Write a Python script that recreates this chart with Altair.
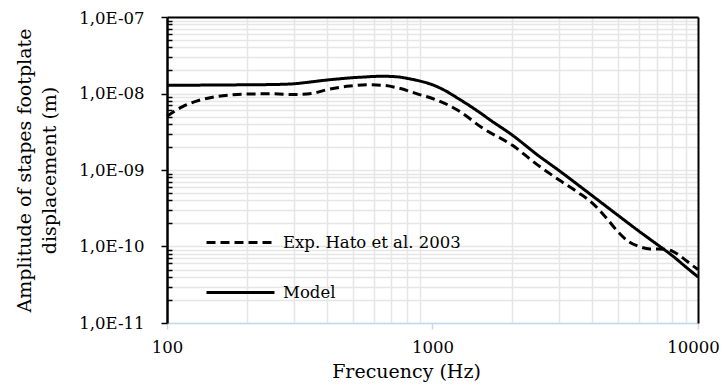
import altair as alt
import pandas as pd

# ---- data ----
series_names = ["Exp. Hato et al. 2003", "Model"]

freq_exp = [100, 115, 130, 150, 175, 200, 250, 300, 350, 400, 475, 570, 650, 750,
            900, 1000, 1250, 1550, 2000, 2500, 3000, 3500, 4000, 4500, 5000, 5500,
            6000, 6600, 7600, 8000, 8760, 9500, 10000]
amp_exp = [5.05e-9, 6.8e-9, 8.0e-9, 9.0e-9, 9.6e-9, 9.85e-9, 9.9e-9, 9.7e-9, 1.0e-8,
           1.12e-8, 1.24e-8, 1.30e-8, 1.28e-8, 1.17e-8, 9.6e-9, 8.6e-9, 6.0e-9, 3.5e-9,
           2.1e-9, 1.15e-9, 7.4e-10, 5.2e-10, 3.7e-10, 2.4e-10, 1.55e-10, 1.15e-10,
           1.0e-10, 9.3e-11, 9.2e-11, 8.7e-11, 7.1e-11, 5.7e-11, 5.0e-11]

freq_model = [100, 150, 200, 250, 300, 350, 400, 450, 500, 550, 600, 650, 700, 750,
              800, 900, 1000, 1100, 1250, 1500, 1650, 2000, 2500, 3000, 4000, 5000,
              6000, 7000, 8000, 9000, 10000]
amp_model = [1.28e-8, 1.29e-8, 1.30e-8, 1.31e-8, 1.34e-8, 1.42e-8, 1.50e-8, 1.56e-8,
             1.61e-8, 1.64e-8, 1.67e-8, 1.68e-8, 1.67e-8, 1.64e-8, 1.58e-8, 1.45e-8,
             1.30e-8, 1.12e-8, 8.6e-9, 5.7e-9, 4.5e-9, 2.85e-9, 1.55e-9, 9.8e-10,
             4.6e-10, 2.55e-10, 1.58e-10, 1.07e-10, 7.6e-11, 5.4e-11, 4.0e-11]

x_ticks = [100, 1000, 10000]
y_ticks = [1e-11, 1e-10, 1e-9, 1e-8, 1e-7]

rows = [{"f": f, "a": a, "s": series_names[0]} for f, a in zip(freq_exp, amp_exp)]
rows += [{"f": f, "a": a, "s": series_names[1]} for f, a in zip(freq_model, amp_model)]
df = pd.DataFrame(rows)

# ---- layout ----
W, H = 531, 306
FONT = "DejaVu Serif"
GRID = "#e6e6e6"
minor_y = [m * 10.0 ** e for e in range(-11, -7) for m in range(2, 10)]
all_y = sorted(minor_y + y_ticks)
minor_x = [m * 10 ** e for e in (2, 3) for m in range(2, 10)]

xs = alt.Scale(type="log", domain=[100, 10000], nice=False)
ys = alt.Scale(type="log", domain=[1e-11, 1e-7], nice=False)

base = alt.Chart(df)

grid = base.mark_line(opacity=0).encode(
    x=alt.X("f:Q", scale=xs, axis=alt.Axis(orient="bottom", values=minor_x, grid=True,
                                           gridColor=GRID, gridWidth=1.5, domain=False,
                                           ticks=False, labels=False, title=None)),
    y=alt.Y("a:Q", scale=ys, axis=alt.Axis(orient="left", values=all_y, grid=True,
                                           gridColor=GRID, gridWidth=1.5, domain=False,
                                           ticks=False, labels=False, title=None)),
    detail="s:N",
)

borders = base.mark_line(opacity=0).encode(
    x=alt.X("f:Q", scale=xs, axis=alt.Axis(orient="top", domain=True, domainColor="black",
                                           domainWidth=2, ticks=False, labels=False,
                                           grid=False, title=None)),
    y=alt.Y("a:Q", scale=ys, axis=alt.Axis(orient="right", domain=True, domainColor="black",
                                           domainWidth=2, ticks=False, labels=False,
                                           grid=False, title=None)),
    detail="s:N",
)

inner_ticks = base.mark_line(opacity=0).encode(
    x=alt.X("f:Q", scale=xs, axis=None),
    y=alt.Y("a:Q", scale=ys, axis=alt.Axis(orient="right", offset=-W, values=minor_y,
                                           domain=False, ticks=True, tickSize=5,
                                           tickColor="black", tickWidth=1.5,
                                           labels=False, grid=False, title=None)),
    detail="s:N",
)

lines = base.mark_line(strokeWidth=3, interpolate="monotone", color="black").encode(
    x=alt.X("f:Q", scale=xs, axis=alt.Axis(
        orient="bottom", values=x_ticks, format="d", grid=False, labelFlush=False,
        labelOffset={"condition": {"test": "datum.value > 5000", "value": -5}, "value": 0},
        domainColor="#c5d9f1", domainWidth=1.5, tickColor="#c5d9f1", tickWidth=1.5,
        tickSize=6, labelFont=FONT, labelFontSize=16.5, labelColor="black", labelPadding=10,
        title="Frecuency (Hz)", titleFont=FONT, titleFontSize=19, titleFontWeight="normal",
        titleColor="black", titlePadding=7, titleX=239)),
    y=alt.Y("a:Q", scale=ys, axis=alt.Axis(
        orient="left", values=y_ticks, grid=False,
        domainColor="black", domainWidth=2.5, tickColor="black", tickWidth=1.5, tickSize=6,
        labelExpr="'1,0E-' + (-round(log(datum.value)/LN10) < 10 ? '0' : '') + (-round(log(datum.value)/LN10))",
        labelOffset={"condition": {"test": "datum.value > 5e-8", "value": 1}, "value": 0},
        labelFont=FONT, labelFontSize=16.5, labelColor="black", labelPadding=17,
        title=["Amplitude of stapes  footplate", "displacement (m)"], titleFont=FONT,
        titleFontSize=19, titleFontWeight="normal", titleColor="black",
        titleLineHeight=25, titleX=-143, titleY=153, titleAlign="center",
        titleBaseline="middle", titleAngle=270)),
    strokeDash=alt.StrokeDash("s:N", scale=alt.Scale(domain=series_names, range=[[9, 5], [1, 0]]),
                              legend=alt.Legend(orient="none", legendX=38, legendY=190, title=None,
                                                symbolType="stroke", symbolSize=4624,
                                                symbolStrokeWidth=3, symbolStrokeColor="black",
                                                labelFont=FONT, labelFontSize=16.5, labelLimit=400,
                                                labelColor="black", rowPadding=6,
                                                labelOffset=7, padding=0)),
)

chart = alt.layer(grid, borders, inner_ticks, lines).resolve_axis(
    x="independent", y="independent"
).properties(
    width=W, height=H,
    autosize=alt.AutoSizeParams(type="none"),
    padding={"left": 159, "top": 9, "right": 21, "bottom": 59},
    background="white",
).configure_view(stroke=None)

chart.save("out.html", embed_options={"renderer": "svg", "actions": False})
